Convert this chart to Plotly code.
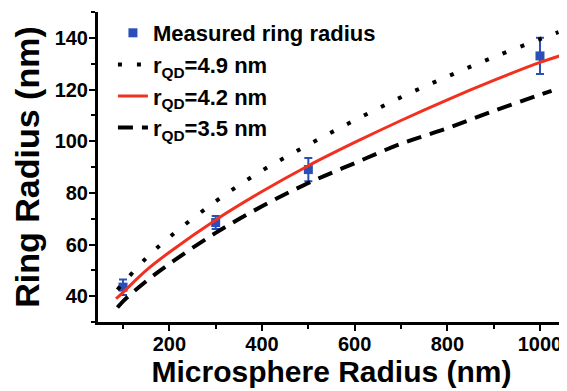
import plotly.graph_objects as go

# Measured data
meas_x = [100, 300, 500, 1000]
meas_y = [43.5, 68.5, 89.0, 133.0]
meas_err = [3.0, 2.5, 4.5, 7.0]

# Model curves
r49_x = [88, 100, 150, 200, 300, 400, 500, 600, 700, 800, 900, 1000, 1040]
r49_y = [42.5, 45.0, 54.7, 62.8, 76.7, 88.6, 98.6, 108.1, 117.0, 125.0, 132.5, 139.5, 142.2]

r42_x = [85, 100, 150, 200, 300, 400, 500, 600, 700, 800, 900, 1000, 1052]
r42_y = [39.0, 41.5, 50.0, 57.0, 69.5, 80.5, 90.5, 99.5, 108.0, 116.0, 123.5, 130.5, 133.5]

r35_x = [88, 100, 150, 200, 300, 400, 500, 600, 700, 800, 900, 1000, 1025]
r35_y = [35.6, 38.0, 45.8, 52.5, 64.5, 74.8, 83.8, 91.5, 99.0, 105.0, 111.7, 118.0, 119.5]

legend_names = ["Measured ring radius", "r<sub>QD</sub>=4.9 nm",
                "r<sub>QD</sub>=4.2 nm", "r<sub>QD</sub>=3.5 nm"]

FONT = "Liberation Sans, Arial, sans-serif"
BLUE = "#2b4fb8"

fig = go.Figure()
fig.add_trace(go.Scatter(
    x=meas_x, y=meas_y, mode="markers", name=legend_names[0],
    marker=dict(symbol="square", size=9, color=BLUE),
    error_y=dict(type="data", array=meas_err, color=BLUE, thickness=2, width=4),
))
fig.add_trace(go.Scatter(
    x=r49_x, y=r49_y, mode="lines", name=legend_names[1], line_shape="spline",
    line=dict(color="black", width=4, dash="4px,15px"),
))
fig.add_trace(go.Scatter(
    x=r42_x, y=r42_y, mode="lines", name=legend_names[2], line_shape="spline",
    line=dict(color="#f23020", width=3),
))
fig.add_trace(go.Scatter(
    x=r35_x, y=r35_y, mode="lines", name=legend_names[3], line_shape="spline",
    line=dict(color="black", width=4, dash="15px,9px"),
))

# Page body has an 8px margin, so the figure is 8px smaller and offsets are compensated
fig.update_layout(
    width=559, height=383,
    margin=dict(l=90, r=2, t=4, b=69),
    paper_bgcolor="white", plot_bgcolor="white",
    font=dict(family=FONT, color="black", size=20, weight="bold"),
    showlegend=True,
    legend=dict(x=0.032, y=1.0, xanchor="left", yanchor="top",
                bgcolor="rgba(0,0,0,0)",
                font=dict(size=22, family=FONT, weight="bold"),
                itemwidth=30),
    xaxis=dict(
        range=[46, 1054], showline=True, linecolor="black", linewidth=3,
        ticks="outside", ticklen=6, tickwidth=2, tickcolor="black",
        tick0=0, dtick=200, showgrid=False, zeroline=False, automargin=False,
        tickfont=dict(size=20, family=FONT, weight="bold"), ticklabelstandoff=-4,
        minor=dict(dtick=100, tick0=0, ticks="outside", ticklen=4, tickwidth=2, tickcolor="black"),
        title=dict(text="Microsphere Radius (nm)", font=dict(size=30, family=FONT, weight="bold"), standoff=4),
    ),
    yaxis=dict(
        range=[30, 150], showline=True, linecolor="black", linewidth=3,
        ticks="outside", ticklen=6, tickwidth=2, tickcolor="black",
        tick0=0, dtick=20, showgrid=False, zeroline=False, automargin=False,
        tickfont=dict(size=20, family=FONT, weight="bold"), ticklabelstandoff=-3,
        minor=dict(dtick=10, tick0=0, ticks="outside", ticklen=4, tickwidth=2, tickcolor="black"),
        title=dict(text="Ring Radius (nm)", font=dict(size=34, family=FONT, weight="bold"), standoff=5),
    ),
)

fig.write_html("out.html")
